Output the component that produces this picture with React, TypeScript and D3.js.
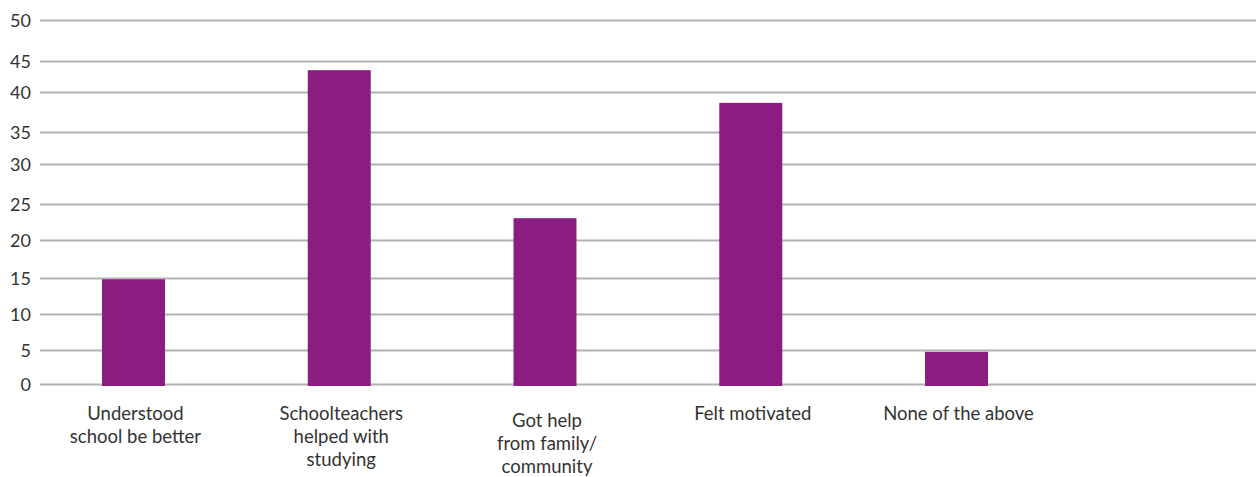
import React from "react";
import * as d3 from "d3";

const categories: string[][] = [
  ["Understood", "school be better"],
  ["Schoolteachers", "helped with", "studying"],
  ["Got help", "from family/", "community"],
  ["Felt motivated"],
  ["None of the above"],
];
const values: number[] = [14.9, 43.6, 23.1, 38.7, 4.8];
const tickValues: number[] = [0, 5, 10, 15, 20, 25, 30, 35, 40, 45, 50];

const W = 1256;
const H = 477;
// pixel stops of the original (slightly irregular) gridlines
const yStops = [384.5, 350.5, 314.5, 278.5, 240.5, 204.5, 164.5, 132.5, 92.5, 61.5, 20.5];
const gridX0 = 40;
const FONT = "Lato, 'Open Sans', sans-serif";
const BAR = "#8b1c80";
const GRID = "#b2b2b2";
const TEXT = "#333333";

export default function App() {
  const y = d3.scaleLinear().domain(tickValues).range(yStops);
  const x = d3
    .scaleBand<number>()
    .domain(d3.range(categories.length))
    .range([30.6, 1059.4])
    .paddingInner(0.694)
    .paddingOuter(0.347);

  return (
    <svg
      width={W}
      height={H}
      style={{ position: "absolute", left: 0, top: 0, background: "#fff" }}
      fontFamily={FONT}
    >
      {tickValues.map((t) => (
        <g key={t}>
          <line x1={gridX0} x2={W} y1={y(t)} y2={y(t)} stroke={GRID} strokeWidth={2.2} />
          <text
            x={31}
            y={y(t)}
            dy="0.36em"
            textAnchor="end"
            fontSize={18}
            fill={TEXT}
          >
            {t}
          </text>
        </g>
      ))}
      {values.map((v, i) => (
        <rect
          key={i}
          x={x(i)}
          y={y(v)}
          width={x.bandwidth()}
          height={y(0) - y(v) + 1.5}
          fill={BAR}
        />
      ))}
      {categories.map((lines, i) => {
        const cx = (x(i) as number) + x.bandwidth() / 2 + 2;
        const top = i === 2 ? 427 : 420;
        return (
          <text key={i} textAnchor="middle" fontSize={18.5} fill={TEXT}>
            {lines.map((l, j) => (
              <tspan key={j} x={cx} y={top + j * 23}>
                {l}
              </tspan>
            ))}
          </text>
        );
      })}
    </svg>
  );
}
